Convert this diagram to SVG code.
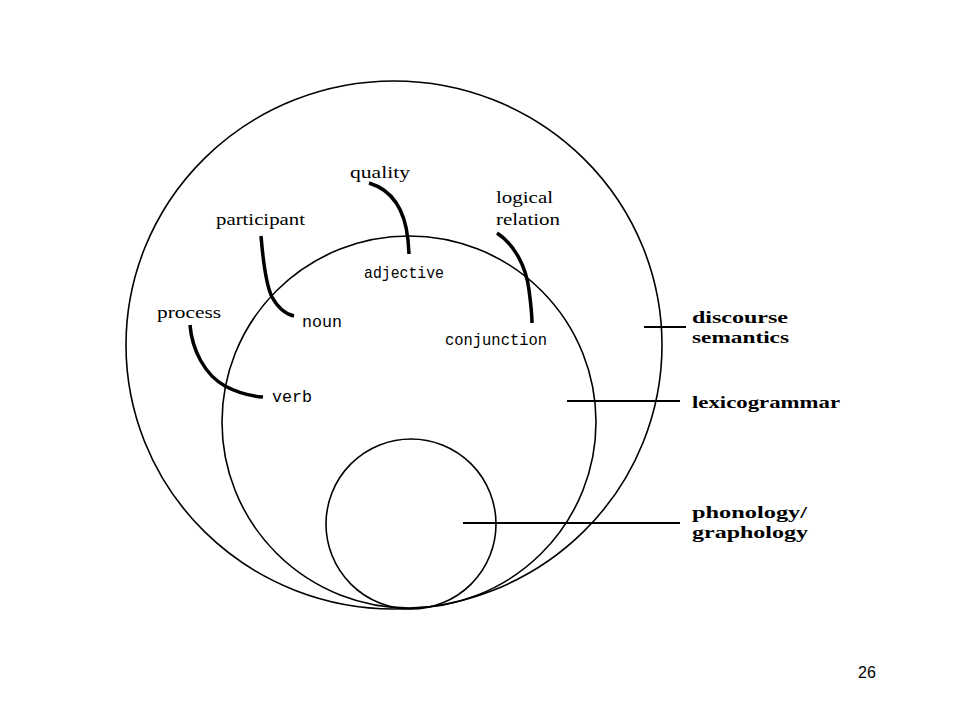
<svg xmlns="http://www.w3.org/2000/svg" width="960" height="720" viewBox="0 0 960 720">
<style>
.ring{fill:none;stroke:#000;stroke-width:1.6}
.lead{stroke:#000;stroke-width:2;fill:none}
.arc{stroke:#000;stroke-width:3.5;fill:none;stroke-linecap:butt}
.ser{font-family:"Liberation Serif","Times New Roman",serif;font-size:17px;fill:#000}
.mono{font-family:"Liberation Mono","DejaVu Sans Mono",monospace;font-size:17px;fill:#000}
.big{font-family:"Liberation Serif","Times New Roman",serif;font-size:17px;font-weight:bold;fill:#000}
.num{font-family:"Liberation Sans",Arial,sans-serif;font-size:16px;fill:#000}
</style>
<rect width="960" height="720" fill="#fff"/>
<g id="discourse-semantics">
<ellipse class="ring" cx="394" cy="345" rx="268" ry="264"/>
<text class="big" x="692" y="323" textLength="96" lengthAdjust="spacingAndGlyphs">discourse</text>
<text class="big" x="692" y="343" textLength="97" lengthAdjust="spacingAndGlyphs">semantics</text>
</g>
<g id="lexicogrammar">
<ellipse class="ring" cx="409" cy="422" rx="187" ry="186"/>
<text class="big" x="692" y="408" textLength="148" lengthAdjust="spacingAndGlyphs">lexicogrammar</text>
</g>
<g id="phonology-graphology">
<circle class="ring" cx="411" cy="524" r="85"/>
<text class="big" x="692" y="518" textLength="115" lengthAdjust="spacingAndGlyphs">phonology/</text>
<text class="big" x="692" y="538" textLength="116" lengthAdjust="spacingAndGlyphs">graphology</text>
</g>
<g id="quality"><text class="ser" x="350" y="178" textLength="60" lengthAdjust="spacingAndGlyphs">quality</text></g>
<g id="participant"><text class="ser" x="216" y="225" textLength="89" lengthAdjust="spacingAndGlyphs">participant</text></g>
<g id="logical-relation">
<text class="ser" x="496" y="203" textLength="57" lengthAdjust="spacingAndGlyphs">logical</text>
<text class="ser" x="496" y="225" textLength="64" lengthAdjust="spacingAndGlyphs">relation</text>
</g>
<g id="process"><text class="ser" x="157" y="318" textLength="64" lengthAdjust="spacingAndGlyphs">process</text></g>
<g id="adjective"><text class="mono" x="364" y="278" textLength="80" lengthAdjust="spacingAndGlyphs">adjective</text></g>
<g id="noun"><text class="mono" x="302" y="327" textLength="40" lengthAdjust="spacingAndGlyphs">noun</text></g>
<g id="verb"><text class="mono" x="272" y="402" textLength="40" lengthAdjust="spacingAndGlyphs">verb</text></g>
<g id="conjunction"><text class="mono" x="445" y="345" textLength="102" lengthAdjust="spacingAndGlyphs">conjunction</text></g>
<g id="connectors">
<line class="lead" x1="644" y1="327" x2="686" y2="327"/>
<line class="lead" x1="567" y1="401" x2="680" y2="401"/>
<line class="lead" x1="463" y1="523" x2="680" y2="523"/>
<path class="arc" d="M369,183 C392,190 405,210 408,240 L409,254"/>
<path class="arc" d="M497,233 C514,244 526,266 529,290 C531,305 532,315 532,323"/>
<path class="arc" d="M261,236 C263,260 266,285 272,297 C278,308 285,314 294,316"/>
<path class="arc" d="M190,325 C192,350 205,375 225,386 C238,393 250,396 263,397"/>
</g>
<text class="num" x="858" y="678">26</text>
</svg>
